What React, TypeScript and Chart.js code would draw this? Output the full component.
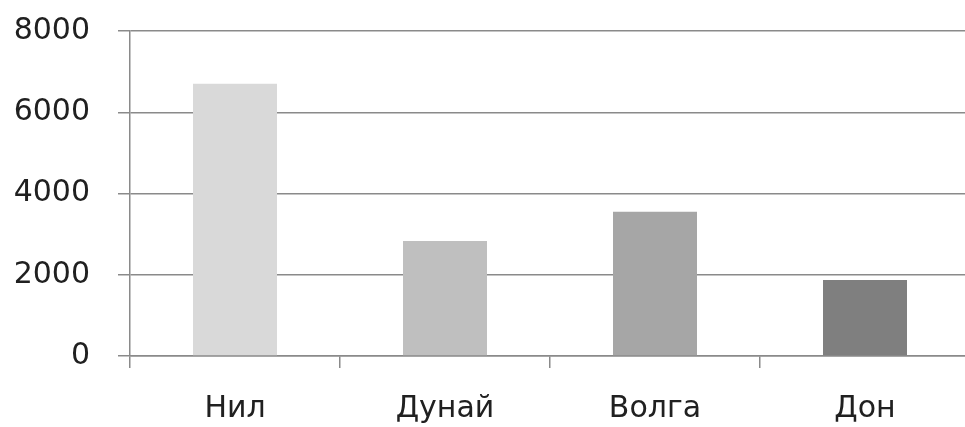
import React, { useEffect, useRef } from "react";
import { Chart, registerables } from "chart.js";

Chart.register(...registerables);

const categories = ["Нил", "Дунай", "Волга", "Дон"];
const lengths = [6700, 2830, 3550, 1870];
const barColors = ["#d9d9d9", "#bfbfbf", "#a6a6a6", "#7f7f7f"];
const yTicks = [0, 2000, 4000, 6000, 8000];

export default function App() {
  const ref = useRef<HTMLCanvasElement | null>(null);
  useEffect(() => {
    if (!ref.current) return;
    const gridColor = "#8a8a8a";
    const font = { family: "'DejaVu Sans', Verdana, sans-serif", size: 30 };
    const chart = new Chart(ref.current, {
      type: "bar",
      data: {
        labels: categories,
        datasets: [
          {
            data: lengths,
            backgroundColor: barColors,
            borderWidth: 0,
            barPercentage: 0.4,
            categoryPercentage: 1,
          },
        ],
      },
      options: {
        responsive: false,
        animation: false,
        layout: { padding: { top: 31, right: 5, left: 0, bottom: 0 } },
        plugins: { legend: { display: false }, tooltip: { enabled: false } },
        scales: {
          x: {
            grid: {
              display: true,
              drawOnChartArea: false,
              drawTicks: true,
              tickLength: 12,
              offset: true,
              color: gridColor,
              lineWidth: 1.5,
            },
            border: { display: true, color: gridColor, width: 1.5 },
            ticks: { color: "#202020", font, padding: 23, maxRotation: 0 },
            afterFit: (scale: any) => {
              scale.height = 71;
            },
          },
          y: {
            min: 0,
            max: 8000,
            afterBuildTicks: (scale: any) => {
              scale.ticks = yTicks.map((v) => ({ value: v }));
            },
            grid: { color: gridColor, lineWidth: 1.5, tickLength: 12 },
            border: { display: true, color: gridColor, width: 1.5 },
            ticks: {
              color: "#202020",
              font,
              padding: 28,
              callback: (v: any) => String(v),
            },
            afterFit: (scale: any) => {
              scale.width = 130;
              scale.paddingTop = 0;
              scale.paddingBottom = 0;
            },
          },
        },
      },
    });
    return () => chart.destroy();
  }, []);
  return (
    <div
      style={{
        position: "fixed",
        left: 0,
        top: 0,
        width: 965,
        height: 427,
        overflow: "hidden",
        background: "#fff",
      }}
    >
      <canvas ref={ref} width={975} height={427} style={{ display: "block" }} />
    </div>
  );
}
